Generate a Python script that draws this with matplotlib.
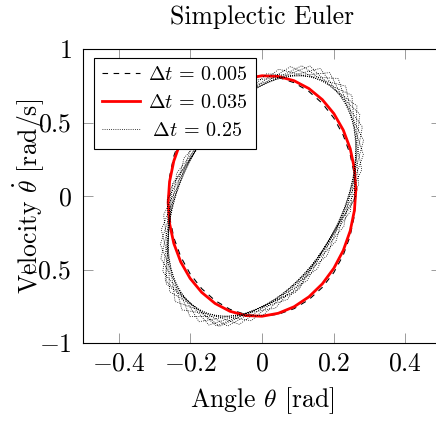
import matplotlib
matplotlib.use("Agg")
import matplotlib.pyplot as plt

plt.rcParams['font.family'] = 'serif'
plt.rcParams['font.serif'] = ['cmr10']
plt.rcParams['mathtext.fontset'] = 'cm'
plt.rcParams['axes.unicode_minus'] = False

# Δt = 0.005 (angle, velocity)
theta_fine = [0.2618, 0.2578, 0.2460, 0.2267, 0.2005, 0.1683, 0.1309, 0.0895, 0.0454, 0.0,
              -0.0454, -0.0895, -0.1309, -0.1683, -0.2005, -0.2267, -0.2460, -0.2578, -0.2618,
              -0.2578, -0.2460, -0.2267, -0.2005, -0.1683, -0.1309, -0.0895, -0.0454, 0.0,
              0.0454, 0.0895, 0.1309, 0.1683, 0.2005, 0.2267, 0.2460, 0.2578, 0.2618]
vel_fine = [0.0064, -0.1357, -0.2738, -0.4035, -0.5209, -0.6225, -0.7052, -0.7665, -0.8045, -0.8180,
            -0.8067, -0.7709, -0.7116, -0.6307, -0.5307, -0.4145, -0.2858, -0.1483, -0.0064,
            0.1357, 0.2738, 0.4035, 0.5209, 0.6225, 0.7052, 0.7665, 0.8045, 0.8180,
            0.8067, 0.7709, 0.7116, 0.6307, 0.5307, 0.4145, 0.2858, 0.1483, 0.0064]

# Δt = 0.035
theta_mid = [0.2622, 0.2582, 0.2464, 0.2271, 0.2008, 0.1685, 0.1311, 0.0897, 0.0455, 0.0,
             -0.0455, -0.0897, -0.1311, -0.1685, -0.2008, -0.2271, -0.2464, -0.2582, -0.2622,
             -0.2582, -0.2464, -0.2271, -0.2008, -0.1685, -0.1311, -0.0897, -0.0455, 0.0,
             0.0455, 0.0897, 0.1311, 0.1685, 0.2008, 0.2271, 0.2464, 0.2582, 0.2622]
vel_mid = [0.0450, -0.0977, -0.2375, -0.3700, -0.4913, -0.5977, -0.6859, -0.7533, -0.7978, -0.8180,
           -0.8134, -0.7841, -0.7309, -0.6555, -0.5603, -0.4480, -0.3221, -0.1863, -0.0450,
           0.0977, 0.2375, 0.3700, 0.4913, 0.5977, 0.6859, 0.7533, 0.7978, 0.8180,
           0.8134, 0.7841, 0.7309, 0.6555, 0.5603, 0.4480, 0.3221, 0.1863, 0.0450]

# Δt = 0.25
theta_coarse = [0.2618, 0.1031, -0.1187, -0.2679, -0.2548, -0.0872, 0.1338, 0.2730, 0.2469, 0.0710,
                -0.1484, -0.2771, -0.2381, -0.0544, 0.1626, 0.2803, 0.2284, 0.0377, -0.1761, -0.2825,
                -0.2179, -0.0208, 0.1891, 0.2837, 0.2066, 0.0038, -0.2013, -0.2839, -0.1947, 0.0131,
                0.2129, 0.2832, 0.1821, -0.0300, -0.2237, -0.2814, -0.1688, 0.0468, 0.2337, 0.2786,
                0.1549, -0.0634, -0.2428, -0.2748, -0.1404, 0.0798, 0.2511, 0.2700, 0.1254, -0.0959,
                -0.2585, -0.2644, -0.1100, 0.1117, 0.2650, 0.2577, 0.0941, -0.1271, -0.2705, -0.2501,
                -0.0779]
vel_coarse = [0.0, -0.6347, -0.8871, -0.5967, 0.0525, 0.6705, 0.8841, 0.5569, -0.1043, -0.7037,
              -0.8776, -0.5149, 0.1561, 0.7346, 0.8680, 0.4709, -0.2075, -0.7627, -0.8552, -0.4255,
              0.2582, 0.7884, 0.8394, 0.3783, -0.3082, -0.8112, -0.8205, -0.3302, 0.3567, 0.8313,
              0.7992, 0.2810, -0.4042, -0.8483, -0.7747, -0.2307, 0.4504, 0.8624, 0.7476, 0.1796,
              -0.4948, -0.8732, -0.7177, -0.1281, 0.5375, 0.8806, 0.6851, 0.0757, -0.5784, -0.8852,
              -0.6503, -0.0234, 0.6174, 0.8867, 0.6132, -0.0291, -0.6542, -0.8847, -0.5737, 0.0816,
              0.6886]

labels = [r'$\Delta t\,=\,0.005$', r'$\Delta t\,=\,0.035$', r'$\;\Delta t\,=\,0.25$']
xticks = [-0.4, -0.2, 0, 0.2, 0.4]
xticklabels = [r'$-0.4$', r'$-0.2$', r'$0$', r'$0.2$', r'$0.4$']
yticks = [-1, -0.5, 0, 0.5, 1]
yticklabels = [r'$-1$', r'$-0.5$', r'$0$', r'$0.5$', r'$1$']

W, H = 436, 422
fig = plt.figure(figsize=(W / 100, H / 100), dpi=100)
x0, x1, yt, yb = 83, 441, 49, 343
ax = fig.add_axes([x0 / W, (H - yb) / H, (x1 - x0) / W, (yb - yt) / H])

FS = 18.5
LFS = 14.5
ax.plot(theta_fine, vel_fine, color='black', lw=0.8, linestyle=(0, (5, 5)), label=labels[0])
ax.plot(theta_mid, vel_mid, color='red', lw=2.0, label=labels[1])
ax.plot(theta_coarse, vel_coarse, color='black', lw=0.6, linestyle=(0, (1, 1.6)), label=labels[2])

ax.set_xlim(-0.5, 0.5)
ax.set_ylim(-1, 1)
ax.set_xticks(xticks)
ax.set_xticklabels(xticklabels, fontsize=FS)
ax.set_yticks(yticks)
ax.set_yticklabels(yticklabels, fontsize=FS)
ax.tick_params(direction='in', length=7, width=0.6, color='0.55', top=True, right=True)
ax.tick_params(axis='x', pad=6)
ax.tick_params(axis='y', pad=8)
for s in ax.spines.values():
    s.set_linewidth(0.8)

ax.set_title('Simplectic Euler', fontsize=FS, pad=18)
ax.set_xlabel(r'Angle $\theta$ [rad]', fontsize=FS, va='center')
ax.xaxis.set_label_coords(0.5, (yb - 401) / (yb - yt))
ax.set_ylabel(r'Velocity $\dot{\theta}$ [rad/s]', fontsize=FS, va='center')
ax.yaxis.set_label_coords(-0.149, 0.5)

leg = ax.legend(loc='upper left', bbox_to_anchor=((94 - x0) / (x1 - x0), (yb - 58) / (yb - yt)),
                borderaxespad=0, fontsize=LFS, frameon=True, fancybox=False,
                edgecolor='black', framealpha=1, handlelength=1.9, handletextpad=0.4,
                labelspacing=0.5, borderpad=0.4)
leg.get_frame().set_linewidth(0.8)

fig.savefig('out.png', dpi=100)
